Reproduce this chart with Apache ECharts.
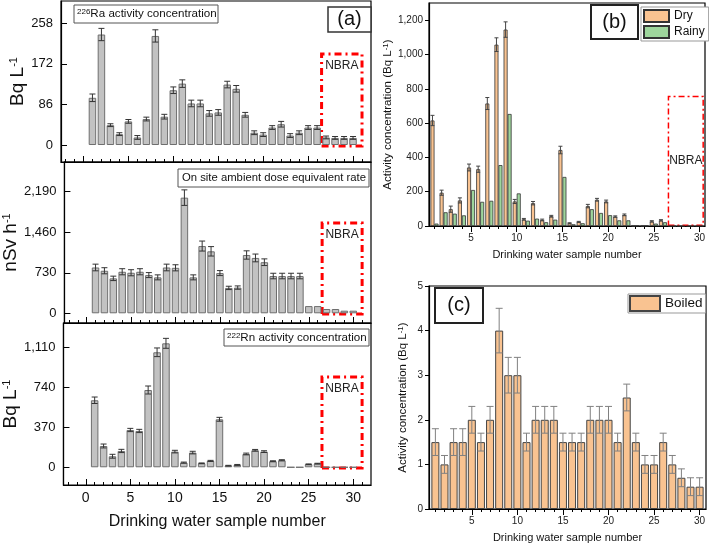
<!DOCTYPE html>
<html>
<head>
<meta charset="utf-8">
<script src="https://cdn.jsdelivr.net/npm/echarts@6/dist/echarts.min.js"></script>
<style>
html, body { margin: 0; padding: 0; background: #fff; }
#main { width: 709px; height: 546px; }
</style>
</head>
<body>
<div id="main"></div>
<script>
var samples = [1, 2, 3, 4, 5, 6, 7, 8, 9, 10, 11, 12, 13, 14, 15, 16, 17, 18, 19, 20, 21, 22, 23, 24, 25, 26, 27, 28, 29, 30];

// panel (a)
var ra226 = [100, 234, 42, 23, 50, 16, 55, 231, 60, 116, 130, 88, 88, 67, 69, 128, 119, 64, 26, 22, 37, 44, 20, 26, 37, 37, 16, 15, 15, 15];
var ra226Err = [8, 13, 3, 3, 4, 4, 4, 13, 5, 7, 8, 7, 7, 6, 6, 7, 7, 5, 4, 4, 4, 6, 4, 4, 4, 4, 3, 3, 3, 3];
var doseRate = [825, 766, 629, 748, 730, 748, 688, 647, 825, 819, 2083, 647, 1211, 1116, 724, 457, 463, 1050, 997, 920, 671, 671, 671, 671, 130, 130, 77, 77, 47, 47];
var doseErr = [60, 55, 40, 55, 55, 55, 45, 45, 60, 55, 140, 45, 90, 85, 45, 30, 30, 75, 70, 60, 50, 50, 50, 50, 0, 0, 0, 0, 0, 0];
var rn222 = [620, 197, 102, 151, 345, 336, 715, 1064, 1147, 145, 43, 136, 37, 59, 444, 15, 22, 123, 157, 145, 56, 65, 0, 0, 28, 34, 0, 0, 0, 0];
var rn222Err = [30, 18, 18, 15, 15, 15, 37, 40, 46, 12, 5, 12, 3, 5, 18, 3, 4, 8, 8, 8, 4, 5, 0, 0, 3, 3, 0, 0, 0, 0];

// panel (b)
var dry = [615, 194, 98, 149, 341, 331, 714, 1057, 1145, 143, 39, 133, 35, 57, 443, 16, 24, 116, 153, 143, 55, 65, 2, 2, 27, 33, 0, 0, 0, 0];
var dryErr = [30, 15, 18, 15, 20, 18, 35, 40, 45, 12, 5, 10, 5, 5, 22, 3, 3, 10, 8, 8, 4, 5, 1, 1, 4, 4, 0, 0, 0, 0];
var rainy = [14, 80, 72, 62, 210, 141, 147, 355, 653, 190, 31, 43, 22, 37, 286, 10, 16, 98, 76, 63, 33, 33, 2, 2, 14, 22, 0, 0, 0, 0];

// panel (c)
var boiled = [1.5, 1.0, 1.5, 1.5, 2.0, 1.5, 2.0, 4.0, 3.0, 3.0, 1.5, 2.0, 2.0, 2.0, 1.5, 1.5, 1.5, 2.0, 2.0, 2.0, 1.5, 2.5, 1.5, 1.0, 1.0, 1.5, 1.0, 0.7, 0.5, 0.5];
var boiledErr = [0.3, 0.2, 0.3, 0.3, 0.3, 0.2, 0.3, 0.5, 0.4, 0.4, 0.2, 0.3, 0.3, 0.3, 0.2, 0.2, 0.2, 0.3, 0.3, 0.3, 0.2, 0.3, 0.2, 0.2, 0.2, 0.2, 0.2, 0.2, 0.2, 0.2];

// tick labels
var raTicks = [0, 86, 172, 258];
var doseTicks = [0, 730, 1460, 2190];
var rnTicks = [0, 370, 740, 1110];
var sampleTicks = [0, 5, 10, 15, 20, 25, 30];
var sampleTicksBC = [5, 10, 15, 20, 25, 30];
var bTicks = [0, 200, 400, 600, 800, 1000, 1200];

var FONT = '"Liberation Sans", Arial, sans-serif';
var myChart = echarts.init(document.getElementById('main'));

function pairs(vals) {
    return samples.map(function (s, i) { return [s, vals[i]]; });
}
function errPairs(vals, errs) {
    return samples.map(function (s, i) { return [s, vals[i], errs[i]]; });
}
function intRange(a, b) {
    var r = [];
    for (var i = a; i <= b; i++) r.push(i);
    return r;
}
function errRender(offset, cap, color) {
    return function (params, api) {
        var x = api.value(0), y = api.value(1), e = api.value(2);
        if (!e) return;
        var lo = api.coord([x, y - e]), hi = api.coord([x, y + e]);
        var cx = lo[0] + offset;
        var st = {stroke: color, lineWidth: 1};
        return {
            type: 'group',
            children: [
                {type: 'line', shape: {x1: cx, y1: lo[1], x2: cx, y2: hi[1]}, style: st},
                {type: 'line', shape: {x1: cx - cap, y1: hi[1], x2: cx + cap, y2: hi[1]}, style: st},
                {type: 'line', shape: {x1: cx - cap, y1: lo[1], x2: cx + cap, y2: lo[1]}, style: st}
            ]
        };
    };
}
var supRich = {s: {fontSize: 11, verticalAlign: 'top', fontFamily: FONT}};
var supRichSmall = {s: {fontSize: 8, verticalAlign: 'top', fontFamily: FONT}};

function minorX(grid, min, max, inside, ticks) {
    return {
        type: 'value', gridIndex: grid, min: min, max: max, position: 'bottom',
        axisLine: {onZero: false, lineStyle: {color: '#000', width: 1.2}},
        axisTick: {inside: inside, length: 3, customValues: ticks, lineStyle: {color: '#000'}},
        axisLabel: {show: false},
        splitLine: {show: false}
    };
}
function majorX(grid, min, max, inside, ticks, labelOpt, name, nameOpt) {
    return {
        type: 'value', gridIndex: grid, min: min, max: max, position: 'bottom',
        axisLine: {show: false, onZero: false},
        axisTick: {inside: inside, length: 6, customValues: ticks, lineStyle: {color: '#000'}},
        axisLabel: labelOpt,
        splitLine: {show: false},
        name: name, nameLocation: 'middle', nameGap: nameOpt.gap,
        nameTextStyle: {fontSize: nameOpt.size, color: '#111', fontFamily: FONT}
    };
}
function aY(grid, min, max, ticks, name) {
    return {
        type: 'value', gridIndex: grid, min: min, max: max,
        axisLine: {onZero: false, lineStyle: {color: '#000', width: 1.2}},
        axisTick: {inside: true, length: 6, customValues: ticks, lineStyle: {color: '#000'}},
        axisLabel: {customValues: ticks, fontSize: 13, color: '#111', margin: 8, fontFamily: FONT,
            formatter: function (v) { return v.toLocaleString('en-US'); }},
        splitLine: {show: false},
        name: name, nameLocation: 'middle', nameGap: 31,
        nameTextStyle: {fontSize: 19, color: '#111', fontFamily: FONT, rich: supRich}
    };
}
function bcY(grid, min, max, ticks, gap) {
    return {
        type: 'value', gridIndex: grid, min: min, max: max,
        axisLine: {onZero: false, lineStyle: {color: '#000', width: 1.2}},
        axisTick: {length: 4, customValues: ticks, lineStyle: {color: '#000'}},
        axisLabel: {customValues: ticks, fontSize: 10, color: '#222', margin: 6, fontFamily: FONT,
            formatter: function (v) { return v.toLocaleString('en-US'); }},
        splitLine: {show: false},
        name: 'Activity concentration (Bq L{s|-1})', nameLocation: 'middle', nameGap: gap,
        nameTextStyle: {fontSize: 11.5, color: '#111', fontFamily: FONT, rich: supRichSmall}
    };
}

var nbraStyle = {color: 'rgba(0,0,0,0)', borderColor: '#ff0000', borderWidth: 3, borderType: [7, 4, 2, 4]};
var nbraLabel = {show: true, position: 'insideTop', distance: 7, color: '#222', fontSize: 12, fontFamily: FONT};
function nbra(y0, y1) {
    return {silent: true, itemStyle: nbraStyle, label: nbraLabel,
        data: [[{name: 'NBRA', xAxis: 26.5, yAxis: y0}, {xAxis: 31, yAxis: y1}]]};
}

var grayBar = {color: '#c2c2c2', borderColor: '#6e6e6e', borderWidth: 1};
var orange = '#f9c391';
var green = '#9ed59c';

option = {
    animation: false,
    backgroundColor: '#fff',
    grid: [
        {left: 61, top: 1, width: 310, height: 161, show: true, borderColor: '#000', borderWidth: 1.2},
        {left: 61, top: 162, width: 310, height: 161, show: true, borderColor: '#000', borderWidth: 1.2},
        {left: 61, top: 323, width: 310, height: 162, show: true, borderColor: '#000', borderWidth: 1.2},
        {left: 429, top: 3, width: 276, height: 223, show: true, borderColor: '#000', borderWidth: 1.2},
        {left: 429, top: 286, width: 277, height: 223, show: true, borderColor: '#000', borderWidth: 1.2}
    ],
    xAxis: [
        minorX(0, -2.5, 32, true, intRange(-2, 31)),
        majorX(0, -2.5, 32, true, sampleTicks, {show: false}, '', {gap: 0, size: 12}),
        minorX(1, -2.5, 32, true, intRange(-2, 31)),
        majorX(1, -2.5, 32, true, sampleTicks, {show: false}, '', {gap: 0, size: 12}),
        minorX(2, -2.5, 32, true, intRange(-2, 31)),
        majorX(2, -2.5, 32, true, sampleTicks,
            {customValues: sampleTicks, fontSize: 14, color: '#111', margin: 6, fontFamily: FONT},
            'Drinking water sample number', {gap: 29, size: 16}),
        minorX(3, 0.4, 30.6, false, intRange(1, 30)),
        majorX(3, 0.4, 30.6, false, sampleTicksBC,
            {customValues: sampleTicksBC, fontSize: 10, color: '#222', margin: 7, fontFamily: FONT},
            'Drinking water sample number', {gap: 23, size: 11}),
        minorX(4, 0.3, 30.7, false, intRange(1, 30)),
        majorX(4, 0.3, 30.7, false, sampleTicksBC,
            {customValues: sampleTicksBC, fontSize: 10, color: '#222', margin: 7, fontFamily: FONT},
            'Drinking water sample number', {gap: 23, size: 11})
    ],
    yAxis: [
        aY(0, -36, 305, raTicks, 'Bq L{s|-1}'),
        aY(1, -175, 2725, doseTicks, 'nSv h{s|-1}'),
        aY(2, -164, 1335, rnTicks, 'Bq L{s|-1}'),
        bcY(3, 0, 1300, bTicks, 31),
        bcY(4, 0, 5, [0, 1, 2, 3, 4, 5], 20)
    ],
    legend: [
        {data: ['Dry', 'Rainy'], orient: 'vertical', left: 641, top: 7, icon: 'rect',
            itemWidth: 25, itemHeight: 12, itemGap: 2, padding: [2, 4, 2, 2],
            borderColor: '#999', borderWidth: 1, backgroundColor: '#fff',
            textStyle: {fontSize: 12, color: '#111', fontFamily: FONT}},
        {data: ['Boiled'], left: 628, top: 294, icon: 'rect',
            itemWidth: 30, itemHeight: 15, padding: [1, 3, 1, 1],
            borderColor: '#999', borderWidth: 1, backgroundColor: '#fff',
            textStyle: {fontSize: 13.5, color: '#111', fontFamily: FONT}}
    ],
    graphic: [
        {type: 'rect', shape: {x: 74, y: 5, width: 144, height: 18}, style: {fill: '#fff', stroke: '#555', lineWidth: 1}},
        {type: 'text', x: 77, y: 14, style: {text: '{s|226}Ra activity concentration', font: '11.6px ' + FONT, fill: '#111',
            textVerticalAlign: 'middle', rich: {s: {fontSize: 8, verticalAlign: 'top', fontFamily: FONT}}}},
        {type: 'rect', shape: {x: 178, y: 169, width: 191, height: 18}, style: {fill: '#fff', stroke: '#555', lineWidth: 1}},
        {type: 'text', x: 182, y: 178, style: {text: 'On site ambient dose equivalent rate', font: '11.3px ' + FONT, fill: '#111',
            textVerticalAlign: 'middle'}},
        {type: 'rect', shape: {x: 224, y: 329, width: 145, height: 17}, style: {fill: '#fff', stroke: '#555', lineWidth: 1}},
        {type: 'text', x: 227, y: 338, style: {text: '{s|222}Rn activity concentration', font: '11.6px ' + FONT, fill: '#111',
            textVerticalAlign: 'middle', rich: {s: {fontSize: 8, verticalAlign: 'top', fontFamily: FONT}}}},
        {type: 'rect', shape: {x: 328, y: 7, width: 43, height: 25}, style: {fill: '#fff', stroke: '#333', lineWidth: 1.5}},
        {type: 'text', x: 349.5, y: 19.5, style: {text: '(a)', font: '20px ' + FONT, fill: '#111', textAlign: 'center', textVerticalAlign: 'middle'}},
        {type: 'rect', shape: {x: 591, y: 5, width: 47, height: 34}, style: {fill: '#fff', stroke: '#222', lineWidth: 2}},
        {type: 'text', x: 614.5, y: 22, style: {text: '(b)', font: '20px ' + FONT, fill: '#111', textAlign: 'center', textVerticalAlign: 'middle'}},
        {type: 'rect', shape: {x: 435, y: 288, width: 48, height: 35}, style: {fill: '#fff', stroke: '#222', lineWidth: 2}},
        {type: 'text', x: 459, y: 305.5, style: {text: '(c)', font: '20px ' + FONT, fill: '#111', textAlign: 'center', textVerticalAlign: 'middle'}}
    ],
    series: [
        {name: 'Ra-226', type: 'bar', xAxisIndex: 0, yAxisIndex: 0, barWidth: 7.5, data: pairs(ra226),
            itemStyle: grayBar, markArea: nbra(-2, 193)},
        {type: 'custom', xAxisIndex: 0, yAxisIndex: 0, data: errPairs(ra226, ra226Err),
            encode: {x: 0, y: 1}, renderItem: errRender(0, 3, '#333'), z: 5},
        {name: 'Dose rate', type: 'bar', xAxisIndex: 2, yAxisIndex: 1, barWidth: 7.5, data: pairs(doseRate),
            itemStyle: grayBar, markArea: nbra(-15, 1625)},
        {type: 'custom', xAxisIndex: 2, yAxisIndex: 1, data: errPairs(doseRate, doseErr),
            encode: {x: 0, y: 1}, renderItem: errRender(0, 3, '#333'), z: 5},
        {name: 'Rn-222', type: 'bar', xAxisIndex: 4, yAxisIndex: 2, barWidth: 7.5, data: pairs(rn222),
            itemStyle: grayBar, markArea: nbra(-6, 835)},
        {type: 'custom', xAxisIndex: 4, yAxisIndex: 2, data: errPairs(rn222, rn222Err),
            encode: {x: 0, y: 1}, renderItem: errRender(0, 3, '#333'), z: 5},
        {name: 'Dry', type: 'bar', xAxisIndex: 6, yAxisIndex: 3, barWidth: 4, barGap: '0%', data: pairs(dry),
            itemStyle: {color: orange, borderColor: '#333', borderWidth: 0.8},
            markArea: {silent: true,
                itemStyle: {color: 'rgba(0,0,0,0)', borderColor: '#ff0000', borderWidth: 1.5, borderType: [6, 3, 2, 3]},
                label: {show: true, position: 'inside', color: '#222', fontSize: 12, fontFamily: FONT},
                data: [[{name: 'NBRA', xAxis: 26.6, yAxis: 5}, {xAxis: 30.4, yAxis: 755}]]}},
        {name: 'Rainy', type: 'bar', xAxisIndex: 6, yAxisIndex: 3, barWidth: 4, barGap: '0%', data: pairs(rainy),
            itemStyle: {color: green, borderColor: '#333', borderWidth: 0.8}},
        {type: 'custom', xAxisIndex: 6, yAxisIndex: 3, data: errPairs(dry, dryErr),
            encode: {x: 0, y: 1}, renderItem: errRender(-2, 2, '#444'), z: 5},
        {name: 'Boiled', type: 'bar', xAxisIndex: 8, yAxisIndex: 4, barWidth: 8, data: pairs(boiled),
            itemStyle: {color: orange, borderColor: '#444', borderWidth: 1}},
        {type: 'custom', xAxisIndex: 8, yAxisIndex: 4, data: errPairs(boiled, boiledErr),
            encode: {x: 0, y: 1}, renderItem: errRender(0, 3.5, '#808080'), z: 5}
    ]
};
myChart.setOption(option);
</script>
</body>
</html>
